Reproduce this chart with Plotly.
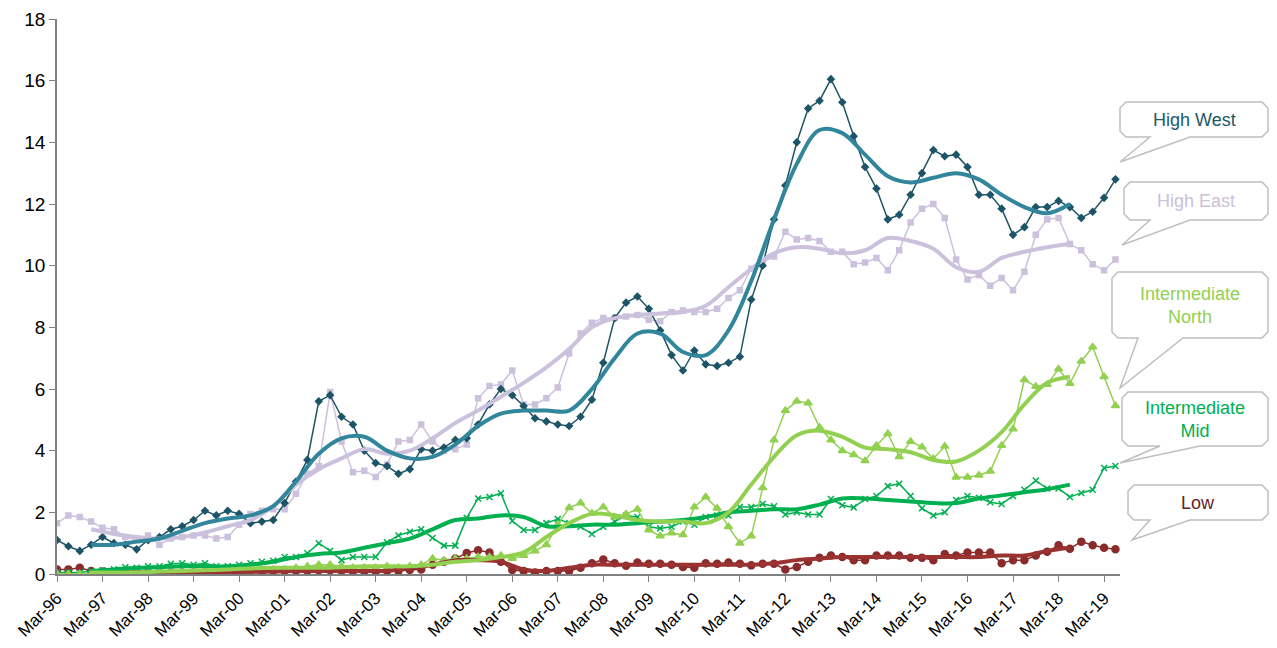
import plotly.graph_objects as go

# quarters Mar-96 .. Jun-19 (index 0..93)
quarters = [f"{m}-{y % 100:02d}" for y in range(1996, 2020) for m in ("Mar", "Jun", "Sep", "Dec")][:94]
tick_idx = list(range(0, 94, 4))
tick_text = [quarters[i] for i in tick_idx]

high_west = [1.1, 0.9, 0.75, 0.95, 1.2, 1.0, 0.95, 0.8, 1.1, 1.2, 1.45, 1.55,
             1.75, 2.05, 1.9, 2.05, 1.95, 1.65, 1.7, 1.75, 2.3, 3.0, 3.7, 5.6,
             5.8, 5.1, 4.85, 4.0, 3.6, 3.5, 3.25, 3.4, 4.05, 4.0, 4.1, 4.35,
             4.4, 4.85, 5.5, 6.0, 5.8, 5.45, 5.05, 4.95, 4.85, 4.8, 5.1, 5.65,
             6.85, 8.3, 8.8, 9.0, 8.6, 7.9, 7.1, 6.6, 7.25, 6.8, 6.75, 6.85,
             7.05, 8.9, 10.0, 11.5, 12.6, 14.0, 15.1, 15.35, 16.05, 15.3, 14.2, 13.2,
             12.5, 11.5, 11.65, 12.3, 13.0, 13.75, 13.55, 13.6, 13.2, 12.3, 12.3, 11.85,
             11.0, 11.25, 11.9, 11.9, 12.1, 11.9, 11.55, 11.75, 12.2, 12.8]
high_east = [1.65, 1.9, 1.85, 1.7, 1.5, 1.45, 1.2, 1.1, 1.25, 0.95, 1.15, 1.2,
             1.25, 1.25, 1.15, 1.2, 1.6, 1.95, 2.05, 2.1, 2.1, 2.6, 3.25, 3.5,
             5.9, 4.3, 3.3, 3.35, 3.15, 3.55, 4.3, 4.35, 4.85, 4.3, 4.0, 4.05,
             4.2, 5.7, 6.1, 6.15, 6.6, 5.5, 5.5, 5.7, 6.05, 7.15, 7.8, 8.15,
             8.3, 8.3, 8.35, 8.4, 8.25, 8.2, 8.5, 8.55, 8.5, 8.5, 8.6, 8.95,
             9.2, 9.9, 10.1, 10.3, 11.1, 10.85, 10.9, 10.8, 10.45, 10.45, 10.05, 10.1,
             10.25, 9.85, 10.5, 11.4, 11.85, 12.0, 11.55, 10.2, 9.55, 9.7, 9.35, 9.6,
             9.2, 9.8, 11.0, 11.5, 11.55, 10.7, 10.5, 10.05, 9.85, 10.2]
inter_north = [0.0, 0.0, 0.0, 0.0, 0.02, 0.03, 0.03, 0.03, 0.05, 0.05, 0.05, 0.05,
               0.05, 0.05, 0.05, 0.08, 0.1, 0.1, 0.12, 0.15, 0.15, 0.2, 0.25, 0.3,
               0.3, 0.25, 0.2, 0.2, 0.2, 0.25, 0.2, 0.25, 0.3, 0.5, 0.45, 0.5,
               0.5, 0.55, 0.55, 0.6, 0.5, 0.6, 0.75, 0.95, 1.6, 2.15, 2.3, 1.97,
               2.17, 1.85, 1.95, 2.1, 1.43, 1.23, 1.33, 1.27, 2.17, 2.5, 2.13, 1.53,
               1.0, 1.23, 2.8, 4.35, 5.3, 5.6, 5.55, 4.75, 4.35, 4.0, 3.87, 3.67,
               4.17, 4.55, 3.8, 4.3, 4.12, 3.74, 4.14, 3.14, 3.14, 3.2, 3.33, 4.17,
               4.7, 6.3, 6.08, 6.15, 6.65, 6.18, 6.9, 7.36, 6.4, 5.46]
inter_mid = [0.05, 0.05, 0.05, 0.1, 0.12, 0.15, 0.22, 0.2, 0.25, 0.25, 0.33, 0.35,
             0.3, 0.35, 0.25, 0.25, 0.3, 0.35, 0.4, 0.43, 0.55, 0.55, 0.67, 1.0,
             0.75, 0.45, 0.55, 0.55, 0.55, 1.03, 1.25, 1.37, 1.45, 1.17, 0.92, 0.92,
             1.82, 2.45, 2.5, 2.62, 1.72, 1.43, 1.43, 1.65, 1.78, 1.65, 1.53, 1.3,
             1.53, 1.7, 1.9, 1.85, 1.53, 1.48, 1.53, 1.7, 1.6, 1.85, 1.9, 1.9,
             2.17, 2.17, 2.27, 2.2, 1.93, 2.0, 1.93, 1.93, 2.43, 2.23, 2.16, 2.43,
             2.53, 2.85, 2.93, 2.53, 2.13, 1.9, 2.0, 2.4, 2.53, 2.47, 2.33, 2.27,
             2.53, 2.73, 3.03, 2.77, 2.77, 2.5, 2.63, 2.73, 3.44, 3.5]
low = [0.15, 0.15, 0.2, 0.1, 0.08, 0.05, 0.05, 0.05, 0.05, 0.05, 0.05, 0.05,
       0.05, 0.05, 0.05, 0.05, 0.05, 0.08, 0.08, 0.1, 0.1, 0.1, 0.1, 0.12,
       0.12, 0.1, 0.08, 0.08, 0.08, 0.1, 0.1, 0.13, 0.15, 0.3, 0.4, 0.5,
       0.68, 0.77, 0.7, 0.4, 0.13, 0.1, 0.05, 0.1, 0.1, 0.1, 0.2, 0.35,
       0.47, 0.35, 0.27, 0.37, 0.33, 0.33, 0.3, 0.23, 0.2, 0.35, 0.33, 0.37,
       0.33, 0.28, 0.33, 0.33, 0.15, 0.23, 0.4, 0.53, 0.6, 0.55, 0.45, 0.45,
       0.6, 0.6, 0.6, 0.53, 0.53, 0.45, 0.65, 0.6, 0.7, 0.7, 0.7, 0.35,
       0.45, 0.45, 0.6, 0.72, 0.93, 0.82, 1.05, 0.93, 0.85, 0.8]

# smoothed trend lines, read at odd quarters
trend_idx = [3, 5, 7, 9, 11, 13, 15, 17, 19, 21, 23, 25, 27, 29, 31, 33, 35, 37, 39, 41, 43, 45,
             47, 49, 51, 53, 55, 57, 59, 61, 63, 65, 67, 69, 71, 73, 75, 77, 79, 81, 83, 85, 87, 89]
high_west_tr = [0.95, 0.95, 1.05, 1.15, 1.4, 1.65, 1.8, 1.9, 2.2, 3.0, 3.9, 4.4, 4.45, 4.0, 3.75, 3.8,
                4.2, 4.8, 5.2, 5.3, 5.3, 5.3, 6.0, 7.0, 7.8, 7.8, 7.2, 7.1, 7.9, 9.5, 11.5, 13.3,
                14.4, 14.3, 13.6, 12.9, 12.7, 12.85, 13.0, 12.8, 12.3, 11.9, 11.7, 12.0]
high_east_tr = [1.45, 1.3, 1.2, 1.15, 1.2, 1.35, 1.55, 1.75, 2.2, 2.9, 3.4, 3.75, 4.05, 3.9, 4.0, 4.4,
                4.9, 5.3, 5.75, 6.2, 6.7, 7.3, 8.0, 8.3, 8.4, 8.45, 8.5, 8.7, 9.3, 9.9, 10.4, 10.6,
                10.55, 10.4, 10.5, 10.9, 10.8, 10.55, 9.95, 9.8, 10.25, 10.45, 10.6, 10.7]
inter_north_tr = [0.05, 0.05, 0.05, 0.08, 0.1, 0.12, 0.15, 0.18, 0.2, 0.2, 0.2, 0.22, 0.25, 0.25, 0.25, 0.3,
                  0.4, 0.45, 0.55, 0.7, 1.2, 1.65, 1.95, 1.9, 1.75, 1.7, 1.7, 1.65, 2.0, 2.9, 3.8, 4.5,
                  4.65, 4.45, 4.1, 4.05, 3.95, 3.7, 3.65, 4.0, 4.6, 5.5, 6.2, 6.4]
inter_mid_tr = [0.1, 0.15, 0.2, 0.22, 0.25, 0.25, 0.25, 0.3, 0.4, 0.55, 0.65, 0.7, 0.85, 1.0, 1.15, 1.45,
                1.75, 1.8, 1.9, 1.85, 1.55, 1.55, 1.6, 1.6, 1.65, 1.7, 1.75, 1.85, 2.0, 2.05, 2.1, 2.1,
                2.25, 2.45, 2.45, 2.4, 2.35, 2.3, 2.3, 2.45, 2.55, 2.65, 2.75, 2.9]
low_tr = [0.1, 0.07, 0.05, 0.05, 0.05, 0.05, 0.05, 0.07, 0.08, 0.1, 0.1, 0.1, 0.1, 0.1, 0.2, 0.3,
          0.45, 0.45, 0.4, 0.15, 0.1, 0.2, 0.3, 0.3, 0.3, 0.3, 0.3, 0.3, 0.3, 0.3, 0.35, 0.45,
          0.5, 0.55, 0.55, 0.55, 0.55, 0.55, 0.55, 0.55, 0.6, 0.6, 0.75, 0.85]

x = list(range(len(quarters)))

series = [
    # name, values, trend, line colour, trend colour, marker, size
    ("Low", low, low_tr, "#8b2c2c", "#9a3232", "circle", 7),
    ("Intermediate Mid", inter_mid, inter_mid_tr, "#00b050", "#00b050", "x-thin", 6),
    ("Intermediate North", inter_north, inter_north_tr, "#92d050", "#92d050", "triangle-up", 7),
    ("High East", high_east, high_east_tr, "#ccc1dc", "#ccc1dc", "square", 5),
    ("High West", high_west, high_west_tr, "#1d5567", "#31869b", "diamond", 5),
]

fig = go.Figure()
for name, vals, tr, col, tcol, sym, sz in series:
    fig.add_trace(go.Scatter(x=x, y=vals, mode="lines+markers", name=name,
                             line=dict(color=col, width=1.5),
                             marker=dict(symbol=sym, size=sz, color=col,
                                         line=dict(color=col, width=1.5))))
for name, vals, tr, col, tcol, sym, sz in series:
    fig.add_trace(go.Scatter(x=trend_idx, y=tr, mode="lines", name=name + " trend",
                             line=dict(color=tcol, width=4, shape="spline", smoothing=1.0)))

# the page puts the figure 8px in from the window corner
OFF = 8
W, H = 1277 - OFF, 648 - OFF
# plot area in screen pixels
L, R, T, B = 57, 1120, 19, 574


def px(xp, yp):
    return (xp - L) / (R - L), (B - yp) / (B - T)


def callout(x0, y0, x1, y1, ta, tb, tip, r=6):
    pts = [(x0 + r, y0), (x1 - r, y0), (x1, y0 + r), (x1, y1 - r), (x1 - r, y1), (tb, y1),
           tip, (ta, y1), (x0 + r, y1), (x0, y1 - r), (x0, y0 + r)]
    s = ""
    for i, (a, b) in enumerate(pts):
        fx, fy = px(a, b)
        s += ("M" if i == 0 else "L") + f"{fx:.5f},{fy:.5f} "
    return dict(type="path", xref="paper", yref="paper", path=s + "Z",
                line=dict(color="#bfbfbf", width=1.5), fillcolor="white", layer="above")


labels = [
    ("High West", "#215868", (1120, 102, 1268, 137, 1150, 1190, (1120, 162))),
    ("High East", "#ccc0da", (1124, 182, 1268, 220, 1150, 1190, (1122, 245))),
    ("Intermediate<br>North", "#92d050", (1112, 272, 1268, 338, 1138, 1183, (1120, 388))),
    ("Intermediate<br>Mid", "#00b050", (1122, 392, 1268, 446, 1160, 1200, (1120, 463))),
    ("Low", "#632523", (1128, 485, 1268, 520, 1150, 1190, (1132, 540))),
]
shapes = []
annotations = []
for text, col, (x0, y0, x1, y1, ta, tb, tip) in labels:
    shapes.append(callout(x0, y0, x1, y1, ta, tb, tip))
    cx, cy = px((x0 + x1) / 2, (y0 + y1) / 2)
    annotations.append(dict(x=cx, y=cy, xref="paper", yref="paper", text=text, showarrow=False,
                            xanchor="center", yanchor="middle",
                            font=dict(color=col, size=18, family="Liberation Sans, Arial")))

fig.update_layout(
    width=W, height=H,
    margin=dict(l=L - OFF, r=W - (R - OFF), t=T - OFF, b=H - (B - OFF), autoexpand=False),
    plot_bgcolor="white", paper_bgcolor="white",
    showlegend=False,
    font=dict(family="Liberation Sans, Arial", color="black"),
    shapes=shapes, annotations=annotations,
)
fig.update_xaxes(range=[0, 93.4], tickvals=tick_idx, ticktext=tick_text, tickangle=-45, automargin=False,
                 showgrid=False, zeroline=False, showline=True, linecolor="#808080", linewidth=1.5,
                 ticks="outside", ticklen=6, tickcolor="#808080", tickfont=dict(size=17))
fig.update_yaxes(range=[0, 18], dtick=2, showgrid=False, zeroline=False, showline=True, automargin=False,
                 linecolor="#808080", linewidth=1.5, ticks="outside", ticklen=6, tickcolor="#808080",
                 tickfont=dict(size=19))

fig.write_html("out.html")
